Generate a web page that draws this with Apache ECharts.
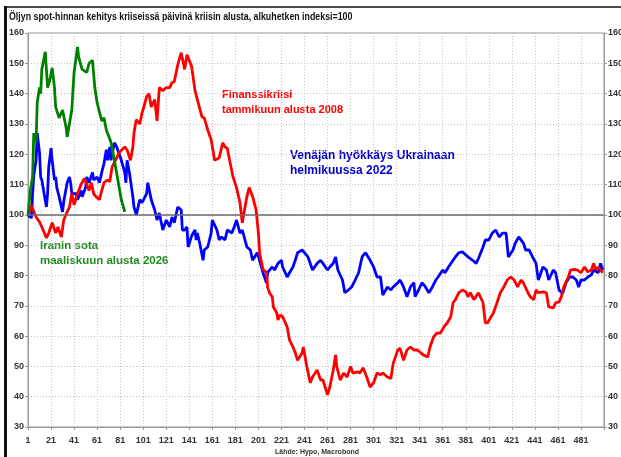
<!DOCTYPE html>
<html><head><meta charset="utf-8">
<script src="https://cdn.jsdelivr.net/npm/echarts@6/dist/echarts.min.js"></script>
<style>html,body{margin:0;padding:0;background:#fff}#c{width:621px;height:457px}</style>
</head><body><div id="c"></div>
<script>
// ---- data (index = day since crisis start, 100 = start) ----
const dayCount = 501;
const xTickLabels = ['1','21','41','61','81','101','121','141','161','181','201','221','241','261','281','301','321','341','361','381','401','421','441','461','481'];
const yTicks = [30,40,50,60,70,80,90,100,110,120,130,140,150,160];

const greenDays = [1,3,5,6,8,9,11,12,13,16,18,20,22,24,25,28,31,34,35,39,41,44,45,48,52,54,57,59,61,65,67,69,73,76,79,82,85];
const greenValues = [100,108,112.5,127,124,137,142,140,148,153.8,142,144.5,148.5,142,135.6,132,134.6,129,125.7,134.6,147,155.4,152,148,147,150,151,142,137,131,132,128,124,118,111.5,105,101];

const redDays = [1,4,8,11,13,17,19,22,25,27,30,32,35,37,39,41,44,47,50,52,54,56,58,60,63,65,67,70,72,74,78,80,85,87,90,92,93,95,98,100,104,106,108,111,113,115,118,121,124,126,128,131,134,137,139,143,146,148,152,154,157,160,163,167,170,172,174,176,179,182,185,187,191,193,196,199,201,202,205,208,209,211,213,214,217,218,220,222,226,228,231,233,235,239,240,243,246,248,252,255,257,261,263,266,268,269,272,275,278,281,283,287,289,292,295,298,301,304,307,309,313,316,318,322,324,327,330,333,336,339,342,344,348,350,353,356,359,362,365,368,370,372,375,378,381,383,385,388,392,396,398,400,403,405,409,411,414,417,420,423,426,429,431,435,437,440,442,444,448,451,453,457,459,462,464,466,470,472,475,478,481,484,487,490,492,494,496,498,500];
const redValues = [100,103,99.3,97.7,96,92.4,94,97.4,94,96,92.7,98.3,101,102.6,107,103.3,107,110,112,110,108,110.6,107,106,105,108,110.6,111.5,111,115.8,118.8,120.5,122.4,121.4,118,122.4,127,131.4,130,133.6,139,140,135.6,138,131,142,141,142,142,143.6,144,149.5,153.5,148,152.8,149,141,138,132.3,132,128,124.8,118,118.8,123.8,122.4,122,118,112.5,109,104,97.4,106,109,106,101.6,94,87.5,82,81,76,74,73,69.6,67.6,65.3,67,66.4,63,58.7,56.4,54.5,52,54.5,56.4,50,44.6,46.5,48.8,45.5,45.5,40.6,43.2,48.8,53.8,50,45.5,47.8,46.5,50,47.8,48.2,47.8,49.5,46.5,43.2,44.6,47.8,47.2,47.8,46.5,46,51,55.4,56,52,55.4,56.4,55.4,55.4,54.5,53.8,53.1,56.4,59.7,61,61,63,64.4,66.4,71,72,74.3,75.2,74.6,73,74.3,72,74.3,71,64.4,64.4,66.4,67.6,72,74.3,76.2,78.5,79.5,78.5,76.2,78.5,77.6,74.3,73,72,75.2,74.3,74.6,74.3,69.6,69.3,71,71.3,73,76.2,79.5,81.8,82,81.8,80.9,82.8,81.2,81.8,84,81.8,82.8,81.8,80.9];

const blueDays = [1,4,5,6,8,9,11,12,13,15,17,18,19,21,22,24,25,26,28,30,31,32,35,37,38,39,43,44,47,48,51,52,54,57,58,61,63,65,67,69,70,72,73,76,78,82,85,86,87,89,92,93,95,98,100,104,105,108,111,113,115,118,121,124,126,128,131,132,134,135,137,139,140,143,146,147,148,150,153,154,157,160,161,165,167,169,172,174,178,180,182,185,187,191,194,196,200,202,205,208,209,213,215,218,221,222,226,228,231,233,235,239,241,244,246,248,252,255,257,261,263,266,268,270,274,276,279,282,285,288,291,294,295,298,301,304,307,309,313,316,318,322,324,327,330,333,336,337,340,343,346,349,352,355,357,361,363,366,370,372,375,378,381,383,387,390,392,396,398,401,404,407,410,413,416,418,422,424,427,431,433,436,439,442,444,448,451,453,457,459,462,465,468,471,474,477,479,481,484,487,490,492,496,498,500];
const blueValues = [100,99,107,113,118,127,120.5,112.5,111.5,107,102.6,107,115.8,122,118,111.5,112.5,109,106,102.6,101,104.3,110.6,112.5,110.6,107,107,105,108,106,109,112.5,110.6,114,111.5,112.5,110.6,114,117,121.5,118,122.4,118,123.8,122.4,118,114,110.6,118,114,106,102.6,100,105,104,107,110.6,105,101.6,98.3,100.6,95,98.3,96,99.3,97.4,102.6,103,101.6,95,95,96,89.4,93,95,91.7,94,90.7,85,88.4,89.4,94,98.3,95,91.7,92.7,91.7,95,94,96,98.3,94,95,89.4,88.4,85,87.5,85,80.9,77.6,80.9,82.8,81.8,84,85,82.8,79.5,80.9,82.8,85,87.5,88.4,87.5,86.1,84,81.8,84,85,84,81.8,82.8,84,86.1,81.8,78.5,74.3,75.2,76.2,78.5,80.9,86.1,87.5,87.5,85,82.8,79.5,79.5,73.5,76.2,75.2,76.2,77.6,78.5,76.2,73,76.2,77.6,73,75.2,77.6,76.2,74.3,76.2,78.5,79.5,81.8,80.9,82.8,85,86.1,87.5,87.8,86.8,86.1,85,84,85.6,89.4,91.7,91.7,94,95,92.7,94,94,86.1,88.4,90.7,92.7,90.7,88.4,88.4,86.1,84,78.5,82.8,81.8,78.5,81.8,80.9,75.2,74,77.6,79.5,79.5,78.5,76.2,78.5,78.5,79.5,80.2,81.8,80.9,84,81.8];

const titleText = 'Öljyn spot-hinnan kehitys kriiseissä päivinä kriisin alusta, alkuhetken indeksi=100';
const redLabel = ['Finanssikriisi', 'tammikuun alusta 2008'];
const blueLabel = ['Venäjän hyökkäys Ukrainaan', 'helmikuussa 2022'];
const greenLabel = ['Iranin sota', 'maaliskuun alusta 2026'];
const sourceText = 'Lähde: Hypo, Macrobond';

// ---- build ----
const categories = [];
for (let d = 1; d <= dayCount; d++) categories.push(String(d));
const pairs = (days, vals) => days.map((d, i) => [String(d), vals[i]]);

const FONT = '"Liberation Sans", Arial, sans-serif';
const labelStyle = { color: '#333', fontSize: 9, fontWeight: 'bold', fontFamily: FONT };

const chart = echarts.init(document.getElementById('c'), null, { renderer: 'canvas' });
const lineS = (name, data, color) => ({
  name, type: 'line', data, symbol: 'none', showSymbol: false, smooth: false,
  lineStyle: { color, width: 2.8 }, itemStyle: { color }, animation: false, silent: true
});
const yAx = (pos, split) => ({
  type: 'value', min: yTicks[0], max: yTicks[yTicks.length - 1], interval: 10, position: pos,
  axisLine: { show: true, lineStyle: { color: '#999' } },
  axisTick: { show: true, length: 3, lineStyle: { color: '#999' } },
  axisLabel: Object.assign({ margin: 4 }, labelStyle),
  splitLine: { show: split, lineStyle: { color: '#c4c4c4', type: [1, 2], width: 1 } }
});

chart.setOption({
  animation: false,
  backgroundColor: '#fff',
  grid: { left: 28, right: 17, top: 33, bottom: 30, show: true, borderColor: '#999', borderWidth: 1,
          containLabel: false, outerBoundsMode: 'none' },
  xAxis: {
    type: 'category', data: categories, boundaryGap: false,
    axisLine: { show: true, lineStyle: { color: '#999', width: 1 } },
    axisTick: { show: true, interval: 19, length: 3, lineStyle: { color: '#999' } },
    axisLabel: Object.assign({ interval: 19, margin: 9, formatter: v => (xTickLabels.indexOf(v) >= 0 ? v : '') }, labelStyle),
    splitLine: { show: true, interval: 19, lineStyle: { color: '#c4c4c4', type: [1, 2], width: 1 } }
  },
  yAxis: [yAx('left', true), yAx('right', false)],
  series: [
    {
      name: 'base', type: 'line', data: [], silent: true,
      markLine: {
        silent: true, symbol: ['none', 'none'], label: { show: false },
        lineStyle: { color: '#6a6a6a', width: 1.5, type: 'solid' },
        data: [{ yAxis: 100 }]
      }
    },
    lineS('Venäjä 2022', pairs(blueDays, blueValues), '#0000ff'),
    lineS('Finanssikriisi 2008', pairs(redDays, redValues), '#ff0000'),
    lineS('Iran 2026', pairs(greenDays, greenValues), '#008000')
  ],
  graphic: [
    { type: 'line', shape: { x1: 4, y1: 7, x2: 621, y2: 7 }, style: { stroke: '#111', lineWidth: 1.5 }, silent: true },
    { type: 'line', shape: { x1: 5.5, y1: 6, x2: 5.5, y2: 457 }, style: { stroke: '#111', lineWidth: 3 }, silent: true },
    { type: 'text', x: 9, y: 17, scaleX: 0.84, silent: true,
      style: { text: titleText, font: 'bold 10.5px ' + FONT, fill: '#111', textVerticalAlign: 'middle' } },
    { type: 'text', x: 222, y: 102, silent: true,
      style: { text: redLabel.join('\n'), font: 'bold 11px ' + FONT, fill: '#ff0000', lineHeight: 15, textVerticalAlign: 'middle' } },
    { type: 'text', x: 290, y: 163, silent: true,
      style: { text: blueLabel.join('\n'), font: 'bold 12px ' + FONT, fill: '#0000cc', lineHeight: 15, textVerticalAlign: 'middle' } },
    { type: 'text', x: 40, y: 253, silent: true,
      style: { text: greenLabel.join('\n'), font: 'bold 11.5px ' + FONT, fill: '#1e8c1e', lineHeight: 15, textVerticalAlign: 'middle' } },
    { type: 'text', x: 275, y: 452, silent: true,
      style: { text: sourceText, font: 'bold 7px ' + FONT, fill: '#333', textVerticalAlign: 'middle' } }
  ]
});
</script></body></html>
